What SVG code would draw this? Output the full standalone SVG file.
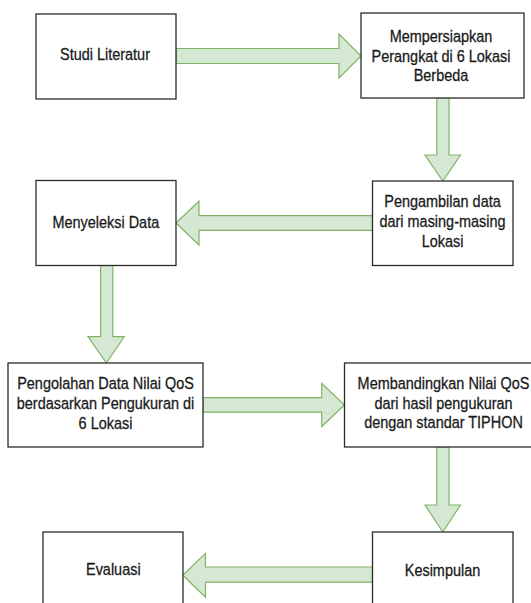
<svg xmlns="http://www.w3.org/2000/svg" width="531" height="603" viewBox="0 0 531 603">
<style>
.box{fill:#ffffff;stroke:#2b2b2b;stroke-width:1.3}
.arr{fill:#d5e8d4;stroke:#82b366;stroke-width:1.2;stroke-linejoin:miter}
.t{font-family:"Liberation Sans",Arial,sans-serif;font-size:17px;fill:#1a1a1a;stroke:#1a1a1a;stroke-width:0.3;text-anchor:middle}
</style>
<rect width="531" height="603" fill="#ffffff"/>
<g id="connectors">
<polygon class="arr" points="176,48.5 339,48.5 339,34 361,56 339,78 339,63.5 176,63.5"/>
<polygon class="arr" points="436.8,98 449,98 449,155 460.5,155 442.8,181 425,155 436.8,155"/>
<polygon class="arr" points="372.5,215.7 199,215.7 199,201.2 176,223 199,245 199,230.3 372.5,230.3"/>
<polygon class="arr" points="100.6,265.5 112.8,265.5 112.8,336.6 124.3,336.6 106.4,363 88,336.6 100.6,336.6"/>
<polygon class="arr" points="203,397.6 321.7,397.6 321.7,383.3 344.5,405 321.7,426.5 321.7,412.2 203,412.2"/>
<polygon class="arr" points="436.8,447 449,447 449,505 460.5,505 442.8,532 425,505 436.8,505"/>
<polygon class="arr" points="372.5,567 205.5,567 205.5,553.3 182.8,575.3 205.5,597.3 205.5,582.2 372.5,582.2"/>
</g>
<g id="n1">
<rect class="box" x="36" y="14" width="140" height="85"/>
<g transform="translate(105,0) scale(0.85,1)"><text class="t" x="0" y="60.5">Studi Literatur</text></g>
</g>
<g id="n2">
<rect class="box" x="361" y="13" width="163" height="85"/>
<g transform="translate(441,0) scale(0.85,1)">
<text class="t" x="0" y="41.7">Mempersiapkan</text>
<text class="t" x="0" y="61.7">Perangkat di 6 Lokasi</text>
<text class="t" x="0" y="81.5">Berbeda</text>
</g>
</g>
<g id="n3">
<rect class="box" x="372.5" y="181" width="140.5" height="84.5"/>
<g transform="translate(442.5,0) scale(0.85,1)">
<text class="t" x="0" y="206.7">Pengambilan data</text>
<text class="t" x="0" y="226.7">dari masing-masing</text>
<text class="t" x="0" y="246.7">Lokasi</text>
</g>
</g>
<g id="n4">
<rect class="box" x="36" y="180.5" width="140" height="85"/>
<g transform="translate(105.8,0) scale(0.85,1)"><text class="t" x="0" y="228.5">Menyeleksi Data</text></g>
</g>
<g id="n5">
<rect class="box" x="8" y="363" width="195" height="84"/>
<g transform="translate(105.5,0) scale(0.85,1)">
<text class="t" x="0" y="389.3">Pengolahan Data Nilai QoS</text>
<text class="t" x="0" y="409">berdasarkan Pengukuran di</text>
<text class="t" x="0" y="429">6 Lokasi</text>
</g>
</g>
<g id="n6">
<rect class="box" x="344.5" y="363" width="197" height="84"/>
<g transform="translate(443.5,0) scale(0.85,1)">
<text class="t" x="0" y="388.8">Membandingkan Nilai QoS</text>
<text class="t" x="0" y="408.6">dari hasil pengukuran</text>
<text class="t" x="0" y="428.5">dengan standar TIPHON</text>
</g>
</g>
<g id="n7">
<rect class="box" x="372.5" y="532" width="140.5" height="85"/>
<g transform="translate(442.5,0) scale(0.85,1)"><text class="t" x="0" y="575.7">Kesimpulan</text></g>
</g>
<g id="n8">
<rect class="box" x="43" y="532" width="140" height="85"/>
<g transform="translate(113.3,0) scale(0.85,1)"><text class="t" x="0" y="575.2">Evaluasi</text></g>
</g>
</svg>
